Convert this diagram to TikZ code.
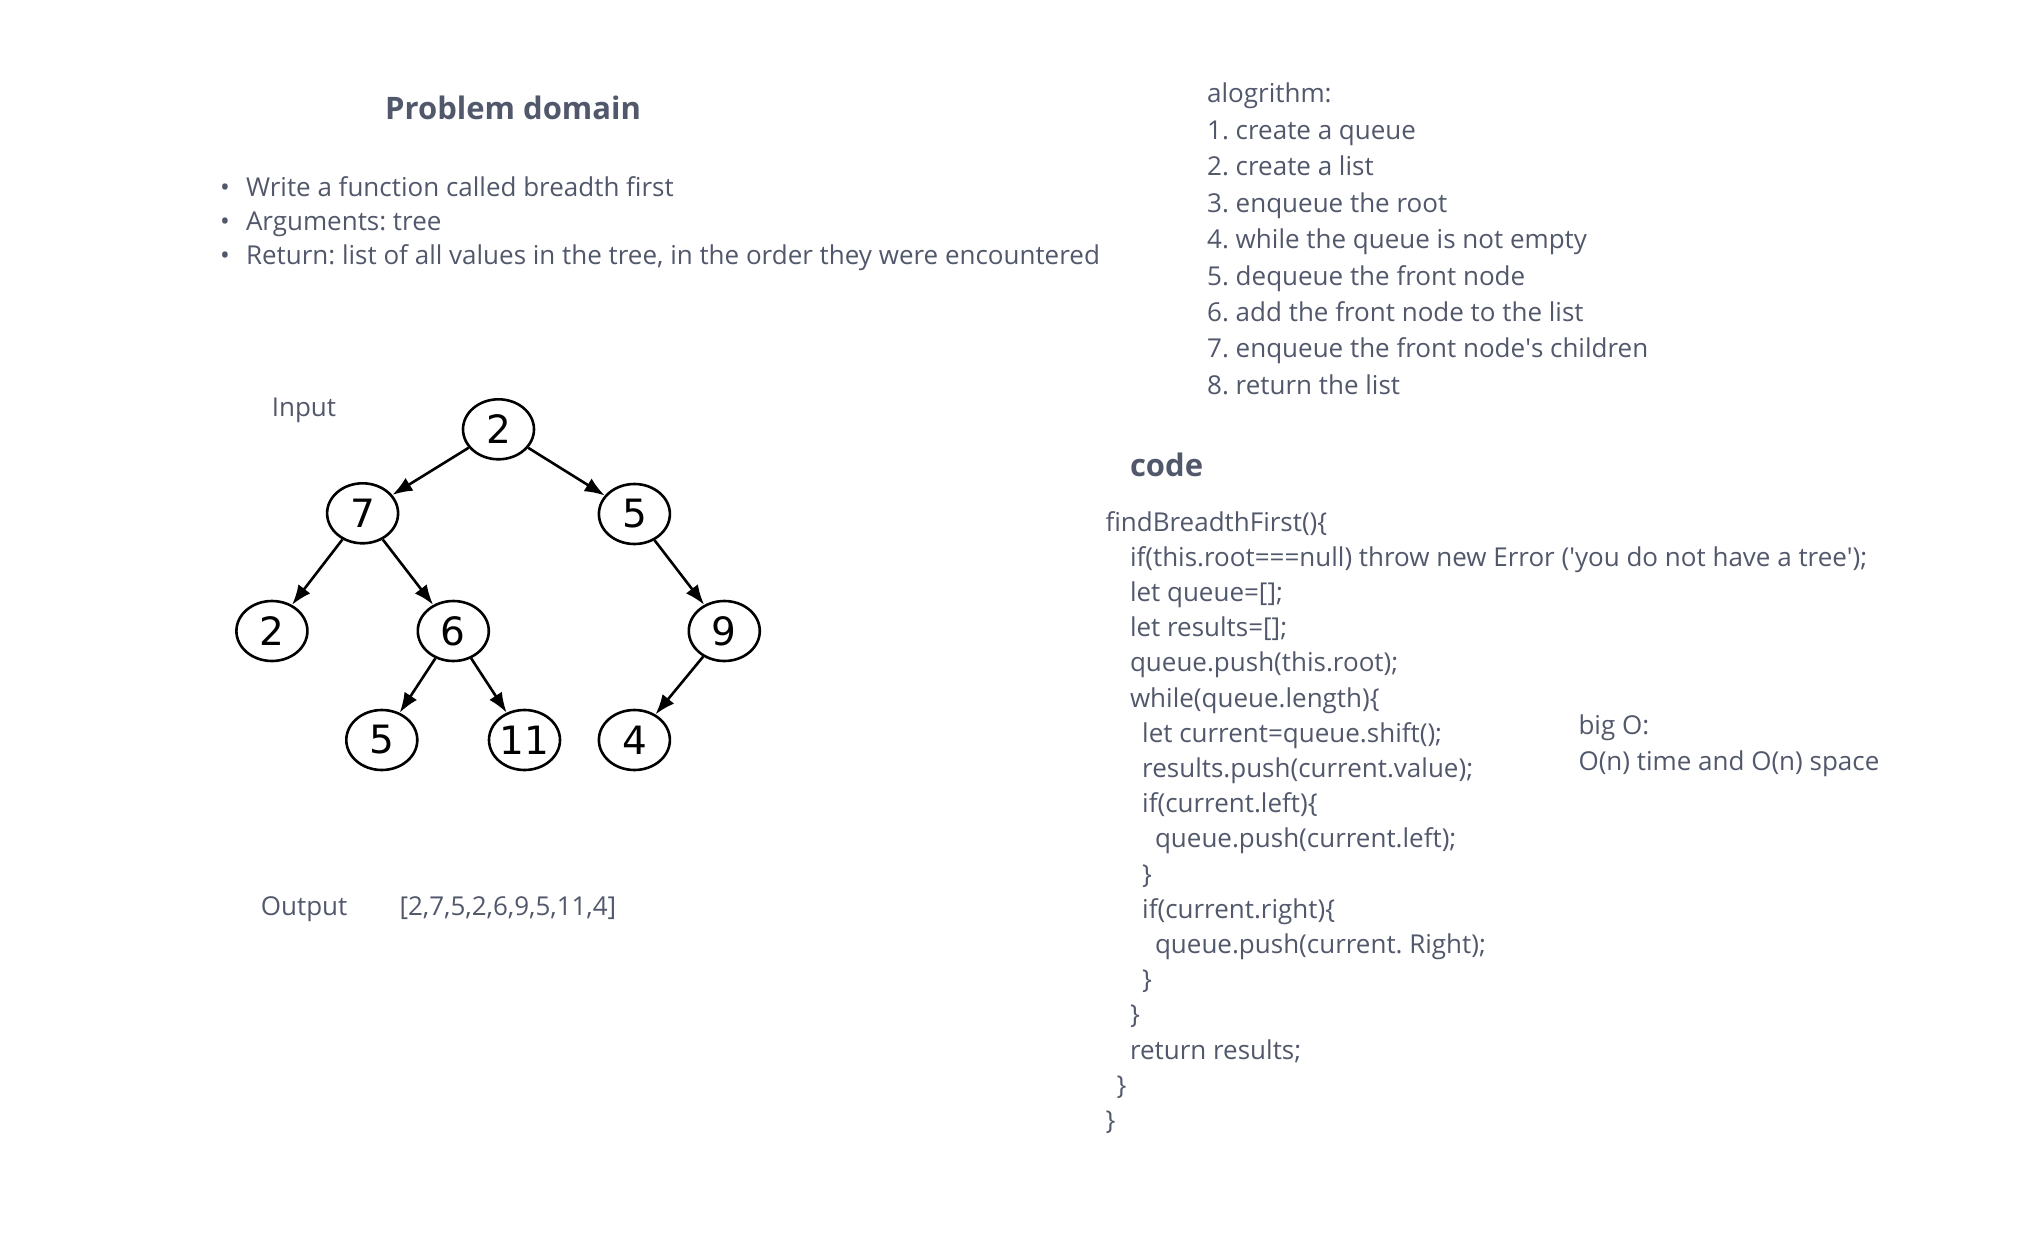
\documentclass[tikz,border=0pt]{standalone}
\usepackage{fontspec}
\setmainfont{Open Sans}
\newfontfamily\treefont{DejaVu Sans}
\usepackage{tikz}
\usetikzlibrary{positioning,shapes,arrows.meta}
\definecolor{ink}{RGB}{82,88,107}
\frenchspacing
\tikzset{txt/.style={anchor=base west,inner sep=0pt,text=ink,font=\fontsize{26}{30}\selectfont}}
\tikzset{head/.style={txt,font=\fontsize{31}{36}\selectfont\bfseries}}
\tikzset{vertex/.style={draw,ellipse,line width=2.6pt,minimum width=71pt,minimum height=60pt,inner sep=0pt,font=\treefont\fontsize{39}{39}\selectfont}}
\tikzset{link/.style={-{Latex[length=20pt,width=15pt]},line width=2.6pt}}

\begin{document}
\begin{tikzpicture}[x=1pt,y=-1pt]
  \useasboundingbox (0,0) rectangle (2030,1242);

  % problem domain
  \node[head] (title) at (385,119.3) {Problem domain};
  \foreach \t [count=\i] in {Write a function called breadth first,
      Arguments: tree,
      {Return: list of all values in the tree, in the order they were encountered}}
    {
    \node[txt] (dot\i) at (220,163+33.7*\i) {\textbullet};
    \node[txt] (goal\i) at (245.8,163+33.7*\i) {\t};
    }

  % algorithm
  \node[txt] (alg) at (1207,102.7) {alogrithm:};
  \foreach \t [count=\i] in {create a queue,create a list,enqueue the root,
      while the queue is not empty,dequeue the front node,add the front node to the list,
      enqueue the front node\textquotesingle s children,return the list}
    \node[txt] (step\i) at (1207,103+36.4*\i) {\i. \t};

  % tree
  \node[txt] (input) at (271.6,416.7) {Input};
  \node[vertex] (root) at (498.5,429.3) {2};
  \node[vertex] (n7) at (362.6,513.3) {7};
  \node[vertex] (n5) at (634.4,514) {5};
  \node[vertex] (n2) at (271.9,631) {2};
  \node[vertex] (n6) at (453.3,631) {6};
  \node[vertex] (n9) at (724.3,631) {9};
  \node[vertex] (n5b) at (381.8,740) {5};
  \node[vertex] (n11) at (524.5,740) {11};
  \node[vertex] (n4) at (634.4,740) {4};
  \draw[link] (root) -- (n7);
  \draw[link] (root) -- (n5);
  \draw[link] (n7) -- (n2);
  \draw[link] (n7) -- (n6);
  \draw[link] (n5) -- (n9);
  \draw[link] (n6) -- (n5b);
  \draw[link] (n6) -- (n11);
  \draw[link] (n9) -- (n4);

  \node[txt] (output) at (260.7,915.7) {Output};
  \node[txt] (result) at (399.3,915.7) {[2,7,5,2,6,9,5,11,4]};

  % code
  \node[head] (code) at (1129.8,476) {code};
  \foreach \dx/\t [count=\i] in {1105.3/{findBreadthFirst()\{},
      1129.8/{if(this.root===null) throw new Error (\textquotesingle you do not have a tree\textquotesingle);},
      1129.8/{let queue=[];},
      1129.8/{let results=[];},
      1129.8/{queue.push(this.root);},
      1129.8/{while(queue.length)\{},
      1142/{let current=queue.shift();},
      1142/{results.push(current.value);},
      1142/{if(current.left)\{},
      1154.8/{queue.push(current.left);},
      1142/{\}},
      1142/{if(current.right)\{},
      1154.8/{queue.push(current. Right);},
      1142/{\}},
      1129.8/{\}},
      1129.8/{return results;},
      1116.5/{\}},
      1105.3/{\}}}
    \node[txt] (line\i) at (\dx,531+35.2*\i-35.2) {\t};

  \node[txt] (bigo) at (1578.3,734.4) {big O:};
  \node[txt] (cost) at (1578.3,770.7) {O(n) time and O(n) space};
\end{tikzpicture}
\end{document}
